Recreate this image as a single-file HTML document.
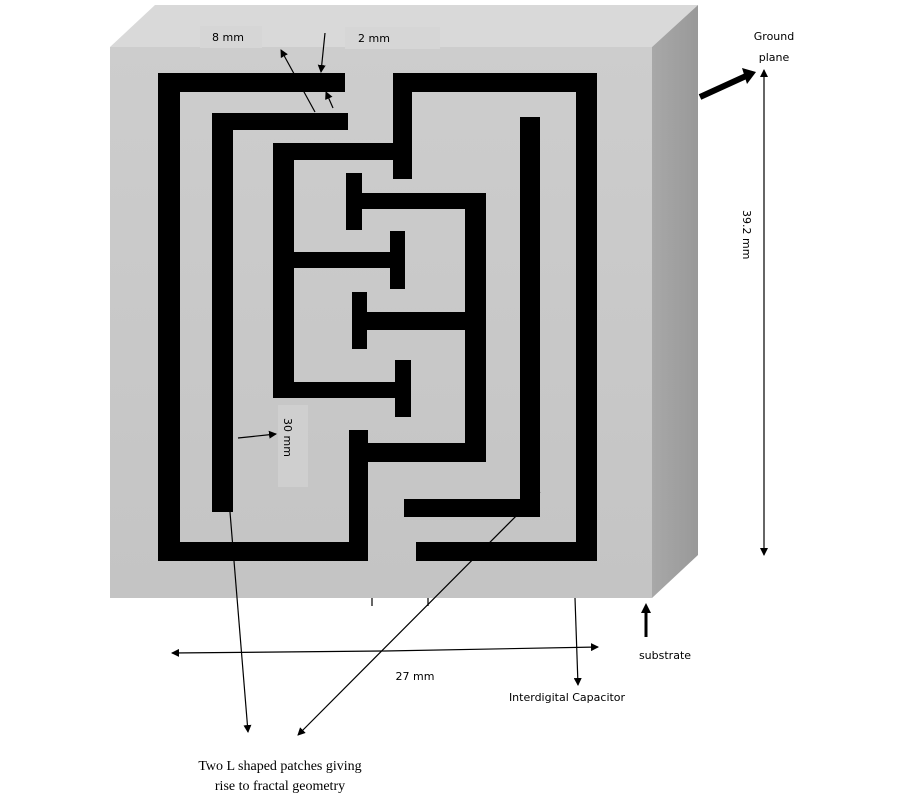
<!DOCTYPE html>
<html><head><meta charset="utf-8"><style>
html,body{margin:0;padding:0;background:#fff;}
svg{display:block;}
</style></head><body>
<svg width="900" height="800" viewBox="0 0 900 800" xmlns="http://www.w3.org/2000/svg">
<defs>
<linearGradient id="side" x1="0" x2="1" y1="0" y2="0"><stop offset="0" stop-color="#a8a8a8"/><stop offset="1" stop-color="#999"/></linearGradient>
<linearGradient id="front" x1="0" x2="0" y1="0" y2="1"><stop offset="0" stop-color="#cdcdcd"/><stop offset="1" stop-color="#c4c4c4"/></linearGradient>
<marker id="ah" markerWidth="8" markerHeight="8" refX="7" refY="4" orient="auto" markerUnits="userSpaceOnUse"><path d="M0,0 L8,4 L0,8 z" fill="#000"/></marker>
</defs>
<polygon points="110,47 155,5 698,5 652,47" fill="#d9d9d9"/>
<polygon points="652,47 698,5 698,555 652,598" fill="url(#side)"/>
<rect x="110" y="47" width="542" height="551" fill="url(#front)"/>
<g font-family="'DejaVu Sans','Liberation Sans',sans-serif" font-size="11" fill="#000">
<rect x="200" y="26" width="62" height="22" fill="#d6d6d6"/>
<rect x="345" y="27" width="95" height="22" fill="#d6d6d6"/>
<text x="212" y="41">8 mm</text>
<text x="358" y="42">2 mm</text>
</g>
<g fill="#000">
<!-- outer left L -->
<rect x="158" y="73" width="187" height="19"/>
<rect x="158" y="73" width="22" height="488"/>
<rect x="158" y="542" width="210" height="19"/>
<rect x="349" y="430" width="19" height="131"/>
<rect x="349" y="443" width="137" height="19"/>
<!-- second L -->
<rect x="212" y="113" width="136" height="17"/>
<rect x="212" y="113" width="21" height="399"/>
<!-- right U -->
<rect x="393" y="73" width="204" height="19"/>
<rect x="393" y="73" width="19" height="106"/>
<rect x="576" y="73" width="21" height="488"/>
<rect x="416" y="542" width="181" height="19"/>
<!-- inner right bar -->
<rect x="520" y="117" width="20" height="400"/>
<rect x="404" y="499" width="136" height="18"/>
<!-- left E -->
<rect x="273" y="143" width="139" height="17"/>
<rect x="273" y="143" width="21" height="255"/>
<rect x="273" y="252" width="120" height="16"/>
<rect x="390" y="231" width="15" height="58"/>
<rect x="273" y="382" width="125" height="16"/>
<rect x="395" y="360" width="16" height="57"/>
<!-- right E -->
<rect x="465" y="193" width="21" height="269"/>
<rect x="346" y="193" width="140" height="16"/>
<rect x="346" y="173" width="16" height="57"/>
<rect x="352" y="312" width="114" height="18"/>
<rect x="352" y="292" width="15" height="57"/>
</g>
<rect x="278" y="405" width="30" height="82" fill="#cfcfcf"/>
<text transform="translate(284,418) rotate(90)" font-family="'DejaVu Sans','Liberation Sans',sans-serif" font-size="11">30 mm</text>
<g stroke="#000" stroke-width="1.2" fill="none">
<line x1="315" y1="112" x2="281" y2="50" marker-end="url(#ah)"/>
<line x1="325" y1="33" x2="321" y2="72" marker-end="url(#ah)"/>
<line x1="333" y1="108" x2="326" y2="92" marker-end="url(#ah)"/>
<line x1="238" y1="438" x2="276" y2="434" marker-end="url(#ah)"/>
<line x1="230" y1="512" x2="248" y2="732" marker-end="url(#ah)"/>
<line x1="540" y1="492" x2="298" y2="735" marker-end="url(#ah)"/>
<line x1="385" y1="651" x2="172" y2="653" marker-end="url(#ah)"/>
<line x1="385" y1="651" x2="598" y2="647" marker-end="url(#ah)"/>
<line x1="575" y1="598" x2="578" y2="685" marker-end="url(#ah)"/>
<line x1="764" y1="300" x2="764" y2="70" marker-end="url(#ah)"/>
<line x1="764" y1="300" x2="764" y2="555" marker-end="url(#ah)"/>
<line x1="372" y1="598" x2="372" y2="606"/>
<line x1="428" y1="598" x2="428" y2="606"/>
</g>
<line x1="700" y1="97" x2="746" y2="76" stroke="#000" stroke-width="6"/>
<polygon points="742,68 756,72 747,84" fill="#000"/>
<line x1="646" y1="637" x2="646" y2="612" stroke="#000" stroke-width="3"/>
<polygon points="641,613 646,603 651,613" fill="#000"/>
<g font-family="'DejaVu Sans','Liberation Sans',sans-serif" font-size="11" fill="#000">
<text x="774" y="40" text-anchor="middle">Ground</text>
<text x="774" y="61" text-anchor="middle">plane</text>
<text transform="translate(743,210) rotate(90)">39.2 mm</text>
<text x="415" y="680" text-anchor="middle">27 mm</text>
<text x="567" y="701" text-anchor="middle">Interdigital Capacitor</text>
<text x="665" y="659" text-anchor="middle">substrate</text>
</g>
<g font-family="'Liberation Serif',serif" font-size="14" fill="#000" text-anchor="middle">
<text x="280" y="770">Two L shaped patches giving</text>
<text x="280" y="790">rise to fractal geometry</text>
</g>
</svg>
</body></html>
